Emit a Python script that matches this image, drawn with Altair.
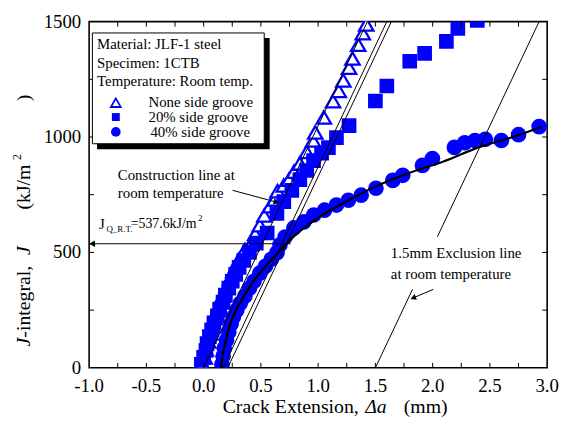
import altair as alt
import pandas as pd

# ---------------- data ----------------
# None side groove (open triangles)
none_x = [-0.01, 0.01, 0.02, 0.04, 0.06, 0.08, 0.10, 0.12, 0.15, 0.17, 0.20, 0.23, 0.26, 0.29, 0.31, 0.34,
          0.36, 0.41, 0.45, 0.49, 0.53, 0.58, 0.62, 0.645, 0.70, 0.745, 0.79, 0.84, 0.90, 0.955, 0.975,
          1.05, 1.13, 1.18, 1.22, 1.27, 1.30, 1.35, 1.39, 1.42]
none_j = [15, 45, 80, 115, 150, 180, 215, 250, 285, 315, 350, 385, 420, 450, 470, 490,
          510, 535, 580, 618, 660, 700, 730, 765, 790, 815, 850, 885, 935, 985, 1020,
          1085, 1155, 1200, 1245, 1300, 1340, 1400, 1450, 1488]

# 20% side groove (filled squares)
g20_x = [-0.02, 0.00, 0.02, 0.03, 0.05, 0.07, 0.09, 0.12, 0.14, 0.17, 0.19, 0.22, 0.25, 0.28, 0.31, 0.35,
         0.40, 0.46, 0.555, 0.64, 0.70, 0.77, 0.84, 0.90, 0.96, 1.03, 1.09, 1.16, 1.27, 1.50, 1.60,
         1.80, 1.93, 2.12, 2.22, 2.39]
g20_j = [15, 45, 75, 105, 135, 165, 195, 225, 255, 285, 315, 345, 375, 405, 435, 465,
         500, 540, 584, 669, 720, 769, 815, 855, 898, 930, 954, 997, 1049, 1156, 1221,
         1328, 1362, 1414, 1470, 1505]

# 40% side groove (filled circles)
g40_x = [0.16, 0.17, 0.18, 0.20, 0.22, 0.24, 0.26, 0.29, 0.32, 0.36, 0.40, 0.44, 0.49, 0.54, 0.59,
         0.641, 0.667, 0.711, 0.788, 0.875, 0.961, 1.056, 1.160, 1.264, 1.376, 1.505, 1.652, 1.739,
         1.911, 1.998, 2.19, 2.28, 2.37, 2.46, 2.60, 2.75, 2.93]
g40_j = [15, 50, 85, 120, 155, 190, 220, 250, 280, 310, 345, 375, 410, 440, 470,
         499, 533, 567, 606, 632, 662, 683, 705, 726, 748, 778, 812, 834,
         877, 907, 955, 975, 985, 990, 985, 1010, 1045]

# fitted J-R curve (black thick line)
fit_x = [0.15, 0.165, 0.19, 0.22, 0.26, 0.31, 0.37, 0.45, 0.55, 0.65, 0.80, 1.0, 1.25, 1.5, 1.8, 2.1, 2.4, 2.7, 2.95]
fit_j = [0, 50, 110, 170, 225, 275, 325, 385, 445, 500, 575, 650, 722, 785, 845, 895, 955, 1000, 1043]

# construction / offset / exclusion lines (start and end points)
lines_x0 = [0.0, 0.17, 0.21, 1.5]
lines_x1 = [1.43, 1.60, 1.64, 2.93]
lines_j0 = [0, 0, 0, 0]
lines_j1 = [1500, 1500, 1500, 1500]

jq_value = 537.6
jq_x = [-1.0, 0.76]

# annotation arrows (tail -> head) in data units
con_arrow_x = [0.253, 0.635]
con_arrow_j = [769, 718]
exc_arrow_x = [2.006, 1.83]
exc_arrow_j = [340, 303]

x_labels = [-1.0, -0.5, 0.0, 0.5, 1.0, 1.5, 2.0, 2.5, 3.0]
x_minor = [-0.75, -0.5, -0.25, 0.0, 0.25, 0.5, 0.75, 1.0, 1.25, 1.5, 1.75, 2.0, 2.25, 2.5, 2.75]
y_labels = [0, 500, 1000, 1500]
y_minor = [250, 500, 750, 1000, 1250]

# ---------------- chart ----------------
W, H = 463, 350
F = "Liberation Serif"
BLUE = "#0000FF"

xs = alt.Scale(domain=[-1, 3], nice=False, zero=False)
ys = alt.Scale(domain=[0, 1500], nice=False, zero=False)


def X(f):
    return alt.X(f, type="quantitative", scale=xs, axis=None)


def Y(f):
    return alt.Y(f, type="quantitative", scale=ys, axis=None)


one = pd.DataFrame({"a": [0]})

tri_df = pd.DataFrame({"x": none_x, "j": none_j})
sq_df = pd.DataFrame({"x": g20_x, "j": g20_j})
ci_df = pd.DataFrame({"x": g40_x, "j": g40_j})
fit_df = pd.DataFrame({"x": fit_x, "j": fit_j})
lines_df = pd.DataFrame({"x": lines_x0, "x1": lines_x1, "j": lines_j0, "j1": lines_j1})

tri = alt.Chart(tri_df).mark_point(shape="triangle-up", filled=True, fill="white", stroke=BLUE,
                                   strokeWidth=2.3, size=210, opacity=1, clip=True).encode(
    x=X("x"), y=Y("j"))

sq = alt.Chart(sq_df).mark_point(shape="square", filled=True, color=BLUE, size=220, opacity=1,
                                 clip=True).encode(x=X("x"), y=Y("j"))

ci = alt.Chart(ci_df).mark_point(shape="circle", filled=True, color=BLUE, size=250, opacity=1,
                                 clip=True).encode(x=X("x"), y=Y("j"))

lines = alt.Chart(lines_df).mark_rule(color="black", strokeWidth=1, clip=True).encode(
    x=X("x"), x2="x1:Q", y=Y("j"), y2="j1:Q")

fit = alt.Chart(fit_df).mark_line(color="black", strokeWidth=2.2, interpolate="monotone",
                                  clip=True).encode(x=X("x"), y=Y("j"))

jq_df = pd.DataFrame({"x": [jq_x[0]], "x2": [jq_x[1]], "j": [jq_value]})
jq_line = alt.Chart(jq_df).mark_rule(color="black", strokeWidth=1).encode(
    x=X("x"), x2="x2:Q", y=Y("j"))
jq_head = alt.Chart(jq_df).mark_point(shape="triangle-left", filled=True, color="black", size=45,
                                      opacity=1).encode(x=alt.value(3), y=Y("j"))


def arrow(xv, jv, angle):
    d = pd.DataFrame({"x": [xv[0]], "x2": [xv[1]], "j": [jv[0]], "j2": [jv[1]]})
    body = alt.Chart(d).mark_rule(color="black", strokeWidth=1).encode(
        x=X("x"), x2="x2:Q", y=Y("j"), y2="j2:Q")
    hd = pd.DataFrame({"x": [xv[1]], "j": [jv[1]]})
    head = alt.Chart(hd).mark_point(shape="triangle-right", filled=True, color="black", size=40,
                                    opacity=1, angle=angle).encode(x=X("x"), y=Y("j"))
    return [body, head]


def txt(s, x, y, size=15, style="normal", align="left", baseline="middle", angle=0):
    kw = dict(text=s, font=F, fontSize=size, fontStyle=style, align=align, baseline=baseline,
              color="black")
    if angle:
        kw["angle"] = angle
    return alt.Chart(one).mark_text(**kw).encode(x=alt.value(x), y=alt.value(y))


def rect(x1, x2, y1, y2, fill, stroke=None, sw=0):
    kw = dict(fill=fill)
    if stroke:
        kw["stroke"] = stroke
        kw["strokeWidth"] = sw
    return alt.Chart(one).mark_rect(**kw).encode(
        x=alt.value(x1), x2=alt.value(x2), y=alt.value(y1), y2=alt.value(y2))


# tick labels as text marks (serif font)
xl_df = pd.DataFrame({"x": x_labels, "t": [f"{v:.1f}" for v in x_labels]})
yl_df = pd.DataFrame({"j": y_labels, "t": [f"{v:d}" for v in y_labels]})
tick_labels = [
    alt.Chart(xl_df).mark_text(font=F, fontSize=19, color="black", baseline="middle",
                               align="center").encode(x=X("x"), y=alt.value(H + 18.5), text="t:N"),
    alt.Chart(yl_df).mark_text(font=F, fontSize=19, color="black", baseline="middle",
                               align="right").encode(y=Y("j"), x=alt.value(-8), text="t:N"),
]

# inward ticks
xt_df = pd.DataFrame({"x": x_minor})
yt_df = pd.DataFrame({"j": y_minor})
ticks = [
    alt.Chart(xt_df).mark_rule(color="black", strokeWidth=1).encode(
        x=X("x"), y=alt.value(H), y2=alt.value(H - 5)),
    alt.Chart(xt_df).mark_rule(color="black", strokeWidth=1).encode(
        x=X("x"), y=alt.value(0), y2=alt.value(5)),
    alt.Chart(yt_df).mark_rule(color="black", strokeWidth=1).encode(
        y=Y("j"), x=alt.value(0), x2=alt.value(5)),
    alt.Chart(yt_df).mark_rule(color="black", strokeWidth=1).encode(
        y=Y("j"), x=alt.value(W), x2=alt.value(W - 5)),
]

# legend box
legend = [
    rect(8, 182.5, 16.5, 129, "black"),
    rect(3.3, 177, 11.5, 123.5, "white", "black", 1),
    txt("Material: JLF-1 steel", 8, 22.5),
    txt("Specimen: 1CTB", 8, 42),
    txt("Temperature: Room temp.", 8, 60.5),
    alt.Chart(one).mark_point(shape="triangle-up", filled=False, color=BLUE, strokeWidth=1.8,
                              size=100, opacity=1).encode(x=alt.value(27), y=alt.value(82)),
    alt.Chart(one).mark_point(shape="square", filled=True, color=BLUE, size=64,
                              opacity=1).encode(x=alt.value(27), y=alt.value(96.5)),
    alt.Chart(one).mark_point(shape="circle", filled=True, color=BLUE, size=95,
                              opacity=1).encode(x=alt.value(27), y=alt.value(111.5)),
    txt("None side groove", 60, 81.5),
    txt("20% side groove", 60, 96.5),
    txt("40% side groove", 62, 111.5),
]

annots = [
    rect(303, 441, 217.5, 270.5, "white"),
    txt("1.5mm Exclusion line", 305, 234),
    txt("at room temperature", 305, 255),
    txt("Construction line at", 29, 155),
    txt("room temperature", 29, 173.5),
    txt("J", 10, 204.5, size=15),
    txt("Q_R.T.", 17.5, 210, size=9),
    txt("=537.6kJ/m", 42, 205, size=14),
    txt("2", 110, 199, size=9),
    # x title
    txt("Crack Extension,", 135, 390, size=20),
    txt("\u0394a", 279, 390, size=20, style="italic"),
    txt("(mm)", 318, 390, size=20),
    # y title (rotated)
    txt("J", -66, 328.5, size=20, style="italic", angle=270),
    txt("-integral,", -66, 319.5, size=20, angle=270),
    txt("J", -66, 236, size=20, style="italic", angle=270),
    txt("(kJ/m", -66, 190, size=20, angle=270),
    txt("2", -73, 140, size=12, angle=270),
    txt(")", -66, 80.5, size=20, angle=270),
]

layers = ([tri, sq, ci, lines, fit, jq_line, jq_head]
          + arrow(con_arrow_x, con_arrow_j, 15)
          + annots
          + arrow(exc_arrow_x, exc_arrow_j, 158)
          + ticks + tick_labels + legend)

chart = alt.layer(*layers).properties(
    width=W, height=H,
    autosize=alt.AutoSizeParams(type="none"),
    padding={"left": 82, "top": 11.5, "right": 14, "bottom": 50},
).configure(
    background="white",
    view=alt.ViewConfig(stroke="black", strokeWidth=1.6),
)

chart.save("out.html", embed_options={"renderer": "svg", "actions": False})
